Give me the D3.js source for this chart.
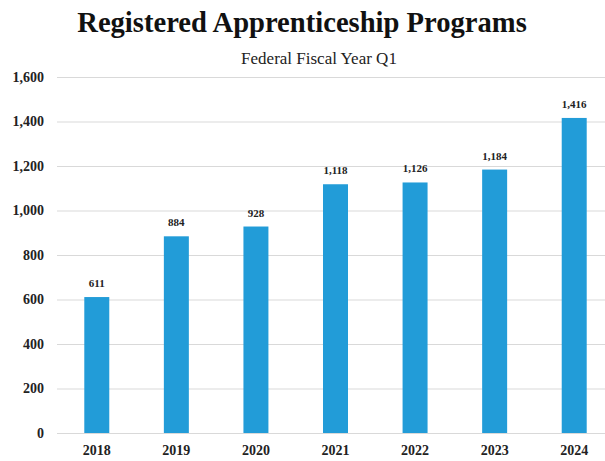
<!DOCTYPE html>
<html><head><meta charset="utf-8">
<script src="https://cdn.jsdelivr.net/npm/d3@7"></script>
<style>body{margin:0;background:#fff}svg{display:block}</style>
</head><body>
<script>
const categories = ["2018","2019","2020","2021","2022","2023","2024"];
const values = [611, 884, 928, 1118, 1126, 1184, 1416];
const yTicks = [0,200,400,600,800,1000,1200,1400,1600];
const title = "Registered Apprenticeship Programs";
const subtitle = "Federal Fiscal Year Q1";

const W = 605, H = 461;
const svg = d3.select("body").append("svg").attr("width", W).attr("height", H);
const serif = "'Liberation Serif', 'DejaVu Serif', serif";

const x = d3.scaleBand().domain(categories).range([57, 614]).paddingInner(0.686).paddingOuter(0.343);
const y = d3.scaleLinear().domain([0,1600]).range([433, 77]);

svg.append("text").attr("x", 302).attr("y", 32).attr("text-anchor","middle")
  .attr("font-family", serif).attr("font-weight","bold").attr("font-size", 28.6).attr("fill","#111").text(title);
svg.append("text").attr("x", 319).attr("y", 64).attr("text-anchor","middle")
  .attr("font-family", serif).attr("font-size", 17).attr("fill","#222").text(subtitle);

const yAxis = svg.append("g").attr("transform","translate(57,0)")
  .call(d3.axisLeft(y).tickValues(yTicks).tickSize(-(W-57)).tickFormat(d3.format(",")));
yAxis.select(".domain").remove();
yAxis.selectAll(".tick line").attr("stroke","#d9d9d9").attr("stroke-width",1);
yAxis.selectAll(".tick text").attr("x",-13).attr("font-family",serif).attr("font-weight","bold")
  .attr("font-size",14).attr("fill","#222");

svg.append("g").selectAll("rect").data(values).join("rect")
  .attr("x",(d,i)=>x(categories[i])).attr("width",x.bandwidth())
  .attr("y",d=>y(d)).attr("height",d=>y(0)-y(d)).attr("fill","#229cd8");

svg.append("g").selectAll("text").data(values).join("text")
  .attr("x",(d,i)=>x(categories[i])+x.bandwidth()/2).attr("y",d=>y(d)-10)
  .attr("text-anchor","middle").attr("font-family",serif).attr("font-weight","bold")
  .attr("font-size",11).attr("fill","#222").text(d=>d3.format(",")(d));

const xAxis = svg.append("g").attr("transform","translate(0,433)")
  .call(d3.axisBottom(x).tickSize(0).tickPadding(12));
xAxis.select(".domain").remove();
xAxis.selectAll(".tick text").attr("font-family",serif).attr("font-weight","bold")
  .attr("font-size",14).attr("fill","#222");
</script>
</body></html>
